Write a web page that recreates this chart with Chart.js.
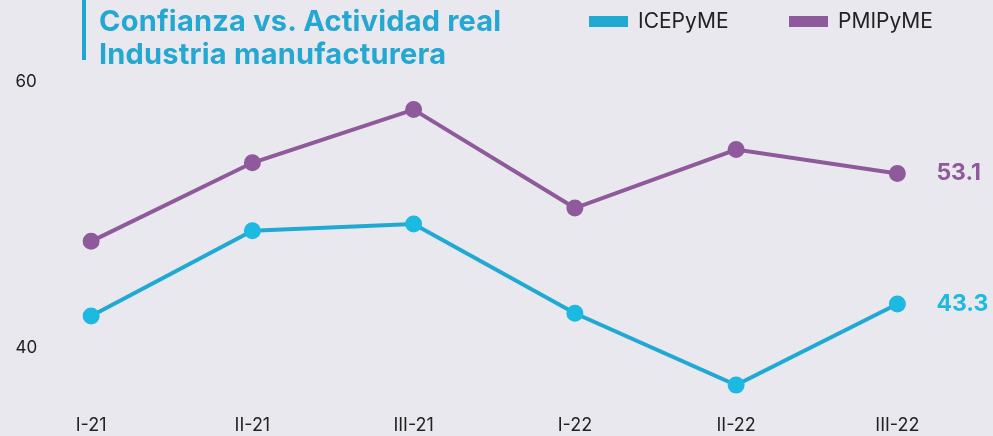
<!DOCTYPE html>
<html>
<head>
<meta charset="utf-8">
<script src="https://cdn.jsdelivr.net/npm/chart.js@4.4.1/dist/chart.umd.min.js"></script>
<style>
  html, body { margin: 0; padding: 0; background: #e9e8ee; }
  #wrap { position: relative; width: 993px; height: 436px; overflow: hidden; }
  #bar { position: absolute; left: 82px; top: 0; width: 4px; height: 60px; background: #1fa6cf; }
  #title { position: absolute; left: 99px; top: 4px; font-family: Inter, "Open Sans", sans-serif; font-weight: 700;
           font-size: 29px; line-height: 33px; color: #24a8d1; white-space: nowrap; letter-spacing: 0.2px; }
  #legend { position: absolute; top: 7px; left: 589px; font-family: Inter, "Open Sans", sans-serif; font-size: 21px; color: #222; }
  .item { position: absolute; top: 0; white-space: nowrap; }
  .box { position: absolute; top: 9px; width: 39px; height: 11px; }
  .lbl { position: absolute; left: 49px; top: 0; line-height: 28px; }
</style>
</head>
<body>
<div id="wrap">
  <canvas id="chart" width="993" height="436"></canvas>
  <div id="bar"></div>
  <div id="title">Confianza vs. Actividad real<br>Industria manufacturera</div>
  <div id="legend"></div>
</div>
<script>
// quarters on the x axis
const quarters = ['I-21', 'II-21', 'III-21', 'I-22', 'II-22', 'III-22'];
// series values
const icepyme = [42.4, 48.8, 49.3, 42.6, 37.2, 43.3];
const pmipyme = [48.0, 53.9, 57.9, 50.5, 54.9, 53.1];
const yTicks = [40, 60];

const cyan = '#1fa9d3';
const purple = '#8f5a9b';

// values written next to the last point of each line
const endLabels = {
    id: 'endLabels',
    afterDatasetsDraw(chart) {
        const ctx = chart.ctx;
        chart.data.datasets.forEach((ds, i) => {
            const meta = chart.getDatasetMeta(i);
            const last = meta.data[meta.data.length - 1];
            ctx.save();
            ctx.font = 'bold 23px Inter, "Open Sans", sans-serif';
            ctx.fillStyle = ds.pointBackgroundColor;
            ctx.textAlign = 'left';
            ctx.textBaseline = 'middle';
            ctx.fillText(ds.data[ds.data.length - 1].toFixed(1), last.x + 39, last.y);
            ctx.restore();
        });
    }
};

const ctx = document.getElementById('chart').getContext('2d');
const chart = new Chart(ctx, {
    type: 'line',
    data: {
        labels: quarters,
        datasets: [{
            label: 'ICEPyME',
            data: icepyme,
            borderColor: cyan,
            backgroundColor: cyan,
            pointBackgroundColor: '#1cb9e0',
            pointBorderColor: '#1cb9e0',
            borderWidth: 4,
            pointRadius: 6.5,
            tension: 0
        }, {
            label: 'PMIPyME',
            data: pmipyme,
            borderColor: purple,
            backgroundColor: purple,
            pointBackgroundColor: purple,
            pointBorderColor: purple,
            borderWidth: 4,
            pointRadius: 6.5,
            tension: 0
        }]
    },
    options: {
        responsive: false,
        animation: false,
        layout: { padding: { left: 4.5, right: 15, top: 55, bottom: 0 } },
        plugins: {
            legend: { display: false },
            tooltip: { enabled: false }
        },
        scales: {
            x: {
                offset: true,
                grid: { display: false, drawTicks: false },
                border: { display: false },
                afterFit: axis => { axis.paddingLeft = 0; axis.paddingRight = 0; },
                ticks: { color: '#222', padding: 0, font: { family: 'Inter, "Open Sans", sans-serif', size: 18 } }
            },
            y: {
                min: 35,
                max: 62,
                grid: { display: false, drawTicks: false },
                border: { display: false },
                afterBuildTicks: axis => { axis.ticks = yTicks.map(v => ({ value: v })); },
                afterFit: axis => { axis.width = 0; },
                ticks: { mirror: true, padding: 5, color: '#222', font: { family: 'Inter, "Open Sans", sans-serif', size: 17 } }
            }
        }
    },
    plugins: [endLabels]
});

// legend built from the datasets
const legend = document.getElementById('legend');
let offset = 0;
chart.data.datasets.forEach((ds) => {
    const item = document.createElement('div');
    item.className = 'item';
    item.style.left = offset + 'px';
    item.innerHTML = '<span class="box" style="background:' + ds.borderColor + '"></span><span class="lbl">' + ds.label + '</span>';
    legend.appendChild(item);
    offset += 200;
});
</script>
</body>
</html>
